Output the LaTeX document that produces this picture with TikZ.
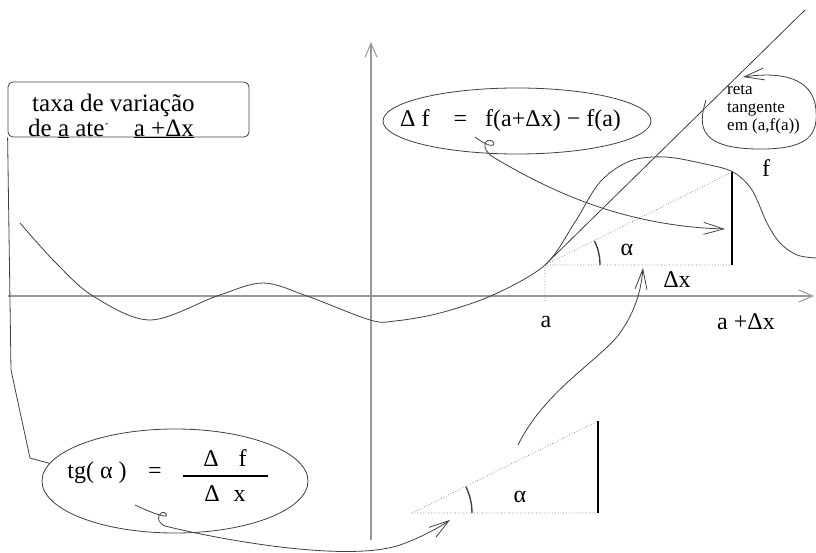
\documentclass[tikz,border=0pt]{standalone}
\usepackage{fontspec}
\setmainfont{Liberation Serif}
\usetikzlibrary{arrows.meta,shapes.geometric}
\tikzset{
  sketch/.style={draw=black!75, line width=0.8pt},
  dotline/.style={draw=black!55, dotted, line width=0.7pt},
  heavy/.style={draw=black, line width=2.6pt},
  barb/.style={-{Straight Barb[length=20pt,width=12pt]}},
  axis/.style={draw=black!40, line width=1.8pt, -{Straight Barb[length=14pt,width=12pt,line width=1pt]}}
}
\begin{document}
\begin{tikzpicture}[x=1pt,y=-1pt,font=\fontsize{24}{28}\selectfont]
    \useasboundingbox (0,0) rectangle (816,553);
    % axes
    \coordinate (xs) at (8,296);
    \coordinate (xe) at (814,296);
    \coordinate (ys) at (371,540);
    \coordinate (ye) at (371,42);
    \draw[axis] (xs) -- (xe);
    \draw[axis] (ys) -- (ye);
    % the function f
    \draw[sketch] plot[smooth, tension=0.55] coordinates {(20,223) (55,262) (93,296) (150,320)
        (217,296) (263,283) (307,296) (370,320) (395,321) (440,313) (493,295) (545,265)
        (575,222) (600,182) (630,161) (665,157) (705,164) (733,172) (752,190) (767,223)
        (780,243) (797,255) (816,258)};
    % tangent and triangle at a
    \coordinate (A) at (545,265);
    \coordinate (B) at (732,265);
    \coordinate (C) at (732,172);
    \coordinate (T) at (805,10);
    \coordinate (a0) at (545,302);
    \draw[sketch] (A) -- (T);
    \draw[dotline] (A) -- (B) (A) -- (C) (A) -- (a0);
    \draw[heavy] (B) -- (C);
    \draw[sketch, line width=1.4pt] (A) ++(-26:55) arc[start angle=-26, end angle=0, radius=55];
    \node (alpha1) at (627,250) {α};
    \node (dxlab) at (677,280) {Δx};
    \node (alab) at (546,322) {a};
    \node (adxlab) at (746,322) {a +Δx};
    \node (flab) at (766,168) {f};
    % tangent label
    \node[anchor=north west, inner sep=0pt, align=left, font=\fontsize{17}{18}\selectfont] (tanlab) at (727,85) {reta\\tangente\\em (a,f(a))};
    \coordinate (tl0) at (706,100);
    \coordinate (tl1) at (743,77);
    \draw[sketch, barb] (tl0) .. controls (697,128) and (700,150) .. (765,149)
        .. controls (808,148) and (818,135) .. (816,110)
        .. controls (814,84) and (792,70) .. (tl1);
    % box of Delta f
    \node[sketch, ellipse, minimum width=268pt, minimum height=66pt] (dfell) at (517,121) {};
    \node[anchor=west, inner sep=0pt] (dftext) at (400,121) {Δ f\hspace{24pt}=\hspace{18pt}f(a+Δx) − f(a)};
    \coordinate (dfs) at (475,137);
    \coordinate (dft) at (725,229);
    \draw[sketch, barb] (dfs) .. controls (492,150) and (497,145) .. (492,141)
        .. controls (486,137) and (479,148) .. (493,157)
        .. controls (545,188) and (620,226) .. (dft);
    % box of the rate
    \node[sketch, rounded corners=5pt, minimum width=241pt, minimum height=55pt] (taxabox) at (128.5,109.5) {};
    \node[anchor=west, align=left, inner sep=0pt, font=\fontsize{25}{25}\selectfont] (taxatxt) at (28,116)
        {\hspace*{4pt}taxa de variação\\de \underline{a} ate\raisebox{.3ex}{\fontsize{13}{13}\selectfont ´}\quad\underline{a +Δx}};
    % box of tg(alpha)
    \node[sketch, ellipse, minimum width=266pt, minimum height=104pt] (tgell) at (175,481) {};
    \node (tglab) at (97,473) {tg(\ α\ )};
    \node (eq2) at (155,473) {=};
    \node (numf) at (225,458) {Δ\hspace{20pt}f};
    \node (denx) at (225,494) {Δ\hspace{14pt}x};
    \coordinate (fracl) at (183,476);
    \coordinate (fracr) at (268,476);
    \draw[line width=1.2pt] (fracl) -- (fracr);
    \coordinate (lp1) at (11,370);
    \coordinate (lp2) at (30,458);
    \draw[sketch] (taxabox.south west) -- (lp1) -- (lp2) -- (tgell.172);
    % lower triangle
    \coordinate (D) at (412,513);
    \coordinate (E) at (598,513);
    \coordinate (F) at (598,421);
    \draw[dotline] (D) -- (E) (D) -- (F);
    \draw[heavy] (E) -- (F);
    \draw[sketch, line width=1.4pt] (D) ++(-26:60) arc[start angle=-26, end angle=0, radius=60];
    \node (alpha2) at (520,497) {α};
    \coordinate (tgs) at (135,505);
    \coordinate (tgt) at (450,520);
    \draw[sketch, barb] (tgs) .. controls (150,512) and (170,520) .. (166,514)
        .. controls (162,508) and (152,520) .. (165,526)
        .. controls (230,542) and (350,562) .. (400,545)
        .. controls (420,538) and (440,527) .. (tgt);
    \coordinate (ua0) at (518,445);
    \coordinate (uat) at (643,268);
    \draw[sketch, barb] (ua0) .. controls (545,390) and (600,360) .. (620,333)
        .. controls (636,310) and (641,290) .. (uat);
\end{tikzpicture}
\end{document}
